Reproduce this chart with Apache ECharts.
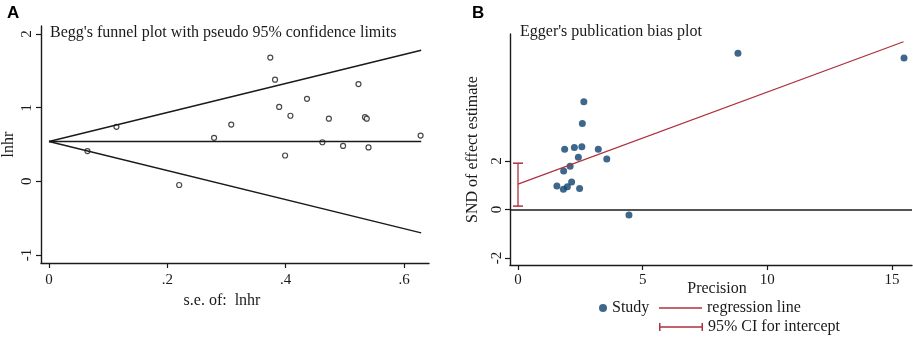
<!DOCTYPE html>
<html>
<head>
<meta charset="utf-8">
<script src="https://cdn.jsdelivr.net/npm/echarts@6/dist/echarts.min.js"></script>
<style>
  html, body { margin: 0; padding: 0; background: #fff; }
  #chart { width: 913px; height: 337px; }
</style>
</head>
<body>
<div id="chart"></div>
<script>
// panel A: Begg's funnel plot
var seA = [0.065, 0.114, 0.220, 0.279, 0.308, 0.374, 0.382, 0.389, 0.399, 0.408, 0.436, 0.462, 0.473, 0.497, 0.523, 0.534, 0.537, 0.540, 0.628];
var lnhrA = [0.41, 0.74, -0.05, 0.59, 0.77, 1.68, 1.38, 1.01, 0.35, 0.89, 1.12, 0.53, 0.85, 0.48, 1.32, 0.87, 0.85, 0.46, 0.62];
var funnelSE = [0, 0.629];
var funnelMid = [0.54, 0.54];
var funnelUpper = [0.54, 1.78];
var funnelLower = [0.54, -0.70];
var xTicksA = [0, 0.2, 0.4, 0.6];
var yTicksA = [-1, 0, 1, 2];

// panel B: Egger's plot
var precisionB = [2.64, 2.58, 1.87, 2.26, 2.56, 3.22, 3.56, 2.42, 2.09, 1.83, 1.56, 1.82, 1.98, 2.15, 2.47, 4.45, 8.82, 15.48];
var sndB = [4.45, 3.55, 2.49, 2.56, 2.59, 2.49, 2.08, 2.16, 1.78, 1.59, 0.97, 0.83, 0.94, 1.13, 0.87, -0.23, 6.45, 6.25];
var regX = [0, 15.46];
var regY = [1.05, 6.92];
var ciX = [0, 0];
var ciY = [0.14, 1.91];
var xTicksB = [0, 5, 10, 15];
var yTicksB = [-2, 0, 2];

function pairs(xs, ys) {
  return xs.map(function (x, i) { return [x, ys[i]]; });
}

var serif = 'Liberation Serif';
var ink = '#1a1a1a';
var navy = '#0e416f';
var maroon = '#ad323e';

function axisBase(ticks, fmt, rotate, margin) {
  return {
    type: 'value',
    splitLine: { show: false },
    nameMoveOverlap: false,
    axisLine: { show: true, onZero: false, lineStyle: { color: ink, width: 1.4 } },
    axisTick: { show: true, inside: false, length: 5, customValues: ticks, lineStyle: { color: ink, width: 1.2 } },
    axisLabel: {
      customValues: ticks, rotate: rotate || 0, margin: margin,
      color: ink, fontFamily: serif, fontSize: 15,
      formatter: fmt
    }
  };
}

function fmtDot(v) {
  if (v === 0) return '0';
  return String(v).replace(/^0/, '').replace(/^-0/, '-');
}

var xA = axisBase(xTicksA, fmtDot, 0, 10);
xA.gridIndex = 0; xA.min = -0.0135; xA.max = 0.6422;
xA.name = 's.e. of:  lnhr'; xA.nameLocation = 'middle'; xA.nameGap = 30;
xA.nameTextStyle = { fontFamily: serif, fontSize: 16, color: ink, padding: [0, 26, 0, 0] };

var yA = axisBase(yTicksA, fmtDot, 90, 6);
yA.gridIndex = 0; yA.min = -1.109; yA.max = 2.108;
yA.name = 'lnhr'; yA.nameLocation = 'middle'; yA.nameGap = 24;
yA.nameTextStyle = { fontFamily: serif, fontSize: 16, color: ink };

var xB = axisBase(xTicksB, fmtDot, 0, 8);
xB.gridIndex = 1; xB.min = -0.321; xB.max = 15.80;
xB.name = 'Precision'; xB.nameLocation = 'middle'; xB.nameGap = 16;
xB.nameTextStyle = { fontFamily: serif, fontSize: 16, color: ink, padding: [0, 0, 0, 12] };

var yB = axisBase(yTicksB, fmtDot, 90, 5);
yB.gridIndex = 1; yB.min = -2.29; yB.max = 7.24;
yB.name = 'SND of effect estimate'; yB.nameLocation = 'middle'; yB.nameGap = 29;
yB.nameTextStyle = { fontFamily: serif, fontSize: 16, color: ink };

var legendText = { fontFamily: serif, fontSize: 16, color: ink };

var myChart = echarts.init(document.getElementById('chart'));
var option = {
  animation: false,
  backgroundColor: '#fff',
  title: [
    { text: 'A', left: 7, top: 5, padding: 0, textStyle: { fontFamily: 'Liberation Sans', fontWeight: 'bold', fontSize: 17, color: '#000' } },
    { text: 'B', left: 472, top: 5, padding: 0, textStyle: { fontFamily: 'Liberation Sans', fontWeight: 'bold', fontSize: 17, color: '#000' } },
    { text: "Begg's funnel plot with pseudo 95% confidence limits", left: 50, top: 25, padding: 0, textStyle: { fontFamily: serif, fontWeight: 'normal', fontSize: 16, color: ink } },
    { text: "Egger's publication bias plot", left: 520, top: 24, padding: 0, textStyle: { fontFamily: serif, fontWeight: 'normal', fontSize: 16, color: ink } }
  ],
  grid: [
    { left: 41, top: 26, width: 388, height: 237 },
    { left: 510, top: 34, width: 402, height: 231 }
  ],
  xAxis: [xA, xB],
  yAxis: [yA, yB],
  legend: [
    { data: ['Study'], left: 599, top: 300, icon: 'circle', itemWidth: 8, itemHeight: 8, selectedMode: false, textStyle: legendText, padding: 0 },
    { data: ['regression line'], left: 659, top: 300, icon: 'rect', itemWidth: 43, itemHeight: 1.5, selectedMode: false, textStyle: legendText, padding: 0 },
    { data: ['95% CI for intercept'], left: 659, top: 319, itemWidth: 44, itemHeight: 8, selectedMode: false, textStyle: legendText, padding: 0,
      icon: 'path://M0,0h1.5v8h-1.5z M0,3.25h44v1.5h-44z M42.5,0h1.5v8h-1.5z' }
  ],
  series: [
    { name: 'funnel upper', type: 'line', xAxisIndex: 0, yAxisIndex: 0, data: pairs(funnelSE, funnelUpper), symbol: 'none', lineStyle: { color: ink, width: 1.5 } },
    { name: 'funnel lower', type: 'line', xAxisIndex: 0, yAxisIndex: 0, data: pairs(funnelSE, funnelLower), symbol: 'none', lineStyle: { color: ink, width: 1.5 } },
    { name: 'pooled', type: 'line', xAxisIndex: 0, yAxisIndex: 0, data: pairs(funnelSE, funnelMid), symbol: 'none', lineStyle: { color: ink, width: 1.5 } },
    { name: 'studies A', type: 'scatter', xAxisIndex: 0, yAxisIndex: 0, data: pairs(seA, lnhrA), symbol: 'circle', symbolSize: 5,
      itemStyle: { color: '#fff', borderColor: ink, borderWidth: 1.2 } },

    { name: 'zero', type: 'line', xAxisIndex: 1, yAxisIndex: 1, data: [], symbol: 'none',
      markLine: { silent: true, symbol: 'none', label: { show: false }, lineStyle: { color: ink, width: 1.5, type: 'solid' }, data: [{ yAxis: 0 }] } },
    { name: 'regression line', type: 'line', xAxisIndex: 1, yAxisIndex: 1, data: pairs(regX, regY), symbol: 'none', color: maroon, lineStyle: { color: maroon, width: 1.3 } },
    { name: '95% CI for intercept', type: 'line', xAxisIndex: 1, yAxisIndex: 1, data: pairs(ciX, ciY), symbol: 'rect', symbolSize: [10, 1.5], color: maroon,
      itemStyle: { color: maroon }, lineStyle: { color: maroon, width: 1.3 } },
    { name: 'Study', type: 'scatter', xAxisIndex: 1, yAxisIndex: 1, data: pairs(precisionB, sndB), symbol: 'circle', symbolSize: 7, itemStyle: { color: navy } }
  ]
};
myChart.setOption(option, true);
</script>
</body>
</html>
